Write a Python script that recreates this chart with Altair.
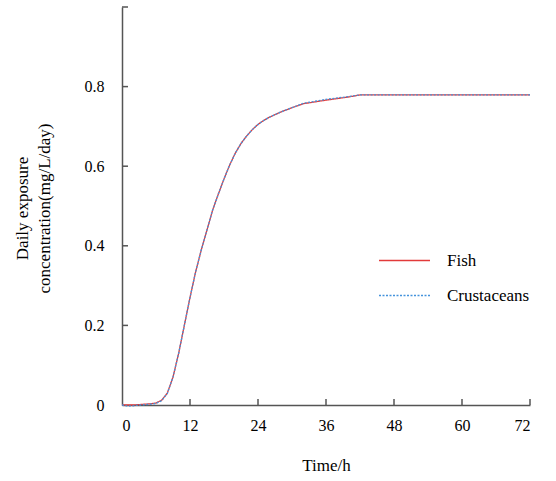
import altair as alt
import pandas as pd

hours = [0, 1, 2, 3, 4, 5, 6, 7, 8, 9, 10, 11, 12, 13, 14, 15, 16, 17, 18, 19, 20,
         21, 22, 23, 24, 25, 26, 28, 30, 32, 36, 40, 42, 48, 54, 60, 66, 72]
fish = [0.0, 0.0, 0.0, 0.001, 0.002, 0.003, 0.005, 0.012, 0.03, 0.07, 0.13, 0.2,
        0.27, 0.335, 0.39, 0.44, 0.49, 0.53, 0.568, 0.603, 0.633, 0.657, 0.676,
        0.692, 0.705, 0.715, 0.723, 0.736, 0.747, 0.757, 0.766, 0.774, 0.779, 0.779,
        0.779, 0.779, 0.779, 0.779]
crustaceans = [0.0, -0.003, -0.002, 0.0, 0.001, 0.002, 0.004, 0.011, 0.029, 0.07,
               0.13, 0.2, 0.27, 0.335, 0.39, 0.44, 0.49, 0.53, 0.568, 0.603, 0.633,
               0.657, 0.676, 0.692, 0.705, 0.715, 0.723, 0.736, 0.747, 0.758, 0.768,
               0.775, 0.779, 0.779, 0.779, 0.779, 0.779, 0.779]
x_ticks = [12, 24, 36, 48, 60, 72]
y_ticks = [0.2, 0.4, 0.6, 0.8, 1.0]

series = ["Fish", "Crustaceans"]
df = pd.DataFrame({
    "t": hours * 2,
    "v": fish + crustaceans,
    "s": [series[0]] * len(hours) + [series[1]] * len(hours),
})

W, H = 408, 398
FONT = "Liberation Serif"
AX = "#555555"

xscale = alt.Scale(domain=[0, 72], nice=False)
yscale = alt.Scale(domain=[0, 1], nice=False)

legend = alt.Legend(title=None, orient="none", legendX=256, legendY=227,
                    symbolType="stroke", symbolSize=2600,
                    symbolStrokeWidth=1.4, labelFontSize=17,
                    labelFont=FONT, rowPadding=-25, labelOffset=16)

lines = alt.Chart(df).mark_line(strokeWidth=1.3, clip=False).encode(
    x=alt.X("t:Q", scale=xscale,
            axis=alt.Axis(values=[0] + x_ticks, title="Time/h", tickSize=0,
                          labelPadding=12, titlePadding=24, grid=False,
                          domainColor=AX, domainWidth=1.5)),
    y=alt.Y("v:Q", scale=yscale,
            axis=alt.Axis(values=[0, 0.2, 0.4, 0.6, 0.8, 1.0],
                          labelExpr="datum.value == 1 ? '' : (datum.value == 0 ? '0' : format(datum.value, '.1f'))",
                          title=["Daily exposure", "concentration(mg/L/day)"],
                          tickSize=0, labelPadding=18, grid=False,
                          titleX=-100, titleY=201, titleAngle=-90,
                          titleLineHeight=22, titleBaseline="middle",
                          domainColor=AX, domainWidth=1.5)),
    color=alt.Color("s:N", sort=series,
                    scale=alt.Scale(domain=series, range=["#e23a3a", "#4493dc"]),
                    legend=legend),
    strokeDash=alt.StrokeDash("s:N", sort=series,
                              scale=alt.Scale(domain=series, range=[[1, 0], [2, 1.5]]),
                              legend=legend),
)

xt = alt.Chart(pd.DataFrame({"t": x_ticks})).mark_rule(color=AX, strokeWidth=1.5).encode(
    x=alt.X("t:Q", scale=xscale), y=alt.value(H), y2=alt.value(H - 6))
yt = alt.Chart(pd.DataFrame({"v": y_ticks})).mark_rule(color=AX, strokeWidth=1.5).encode(
    y=alt.Y("v:Q", scale=yscale), x=alt.value(0), x2=alt.value(6))

chart = alt.layer(lines, xt, yt).properties(
    width=W, height=H,
    autosize=alt.AutoSizeParams(type="none"),
    padding={"left": 122, "top": 7, "right": 26, "bottom": 76},
    background="white",
).configure_view(stroke=None).configure_axis(
    labelFont=FONT, titleFont=FONT, labelFontSize=16, titleFontSize=17,
    labelColor="#000", titleColor="#000", titleFontWeight="normal",
)

chart.save("out.html", embed_options={"renderer": "svg", "actions": False})
